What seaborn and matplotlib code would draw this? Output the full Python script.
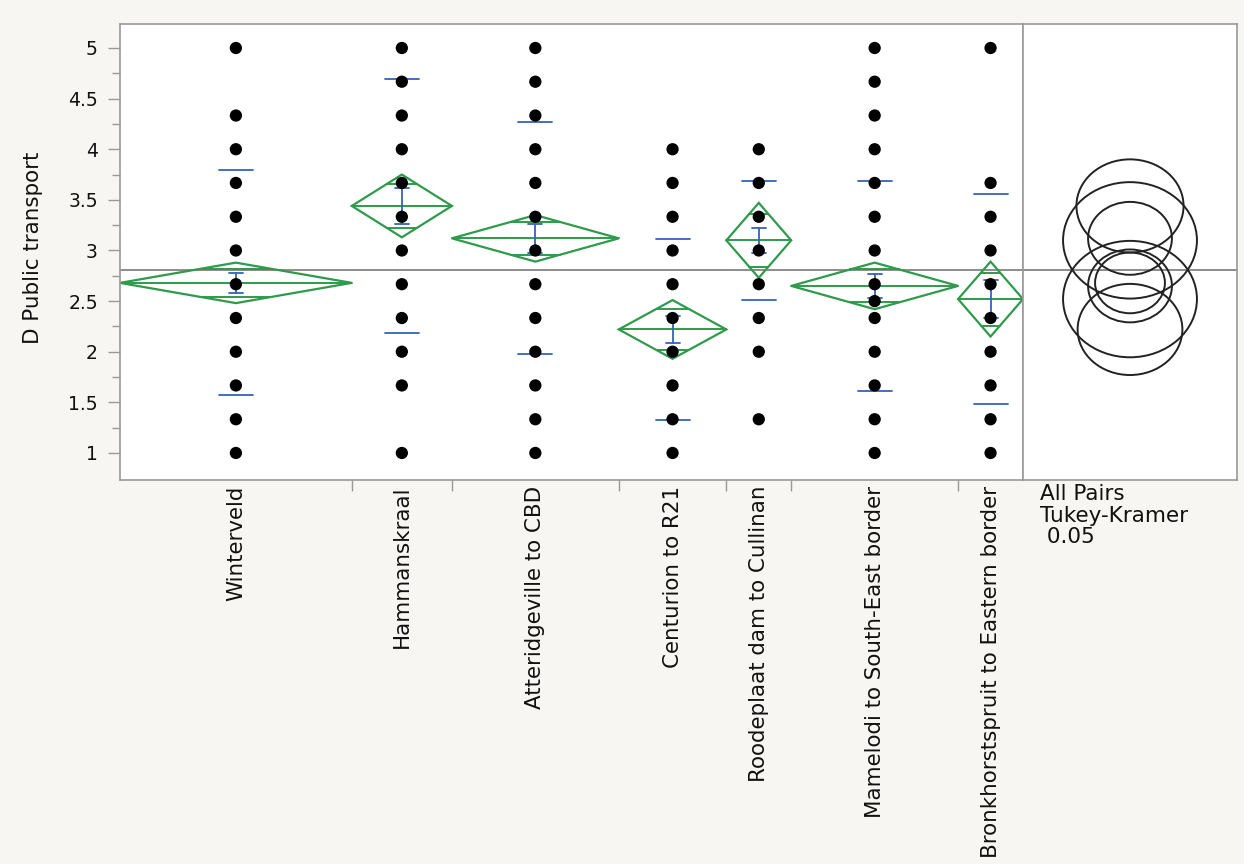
import numpy as np
import pandas as pd
import matplotlib
matplotlib.use("Agg")
import matplotlib.pyplot as plt
import seaborn as sns
from matplotlib.patches import Polygon, Ellipse
from matplotlib.ticker import FixedLocator, FuncFormatter, NullFormatter

# ---------------- data ----------------
groups = ["Winterveld", "Hammanskraal", "Atteridgeville to CBD", "Centurion to R21",
          "Roodeplaat dam to Cullinan", "Mamelodi to South-East border",
          "Bronkhorstspruit to Eastern border"]
group_n = [125, 54, 90, 58, 35, 90, 35]
group_mean = [2.68, 3.44, 3.12, 2.22, 3.10, 2.65, 2.52]
group_sd = [1.11, 1.255, 1.145, 0.895, 0.59, 1.04, 1.035]
ci_half = [0.20, 0.31, 0.23, 0.29, 0.37, 0.23, 0.37]
se_half = [0.10, 0.18, 0.14, 0.13, 0.12, 0.12, 0.19]
circle_radius = [0.30, 0.46, 0.36, 0.45, 0.575, 0.36, 0.575]
grand_mean = 2.81

pts_winterveld = [5, 4.333, 4, 3.667, 3.333, 3, 2.667, 2.333, 2, 1.667, 1.333, 1]
pts_hammanskraal = [5, 4.667, 4.333, 4, 3.667, 3.333, 3, 2.667, 2.333, 2, 1.667, 1]
pts_atteridgeville = [5, 4.667, 4.333, 4, 3.667, 3.333, 3, 2.667, 2.333, 2, 1.667, 1.333, 1]
pts_centurion = [4, 3.667, 3.333, 3, 2.667, 2.333, 2, 1.667, 1.333, 1]
pts_roodeplaat = [4, 3.667, 3.333, 3, 2.667, 2.333, 2, 1.333]
pts_mamelodi = [5, 4.667, 4.333, 4, 3.667, 3.333, 3, 2.667, 2.5, 2.333, 2, 1.667, 1.333, 1]
pts_bronkhorstspruit = [5, 3.667, 3.333, 3, 2.667, 2.333, 2, 1.667, 1.333, 1]
group_points = [pts_winterveld, pts_hammanskraal, pts_atteridgeville, pts_centurion,
                pts_roodeplaat, pts_mamelodi, pts_bronkhorstspruit]

y_ticks = [1, 1.5, 2, 2.5, 3, 3.5, 4, 4.5, 5]
y_label = "D Public transport"
panel_text = "All Pairs\nTukey-Kramer\n 0.05"

# ---------------- style ----------------
sns.set_theme(style="white")
plt.rcParams['font.family'] = ['DejaVu Sans']
BG = "#f7f6f2"
GREEN = "#2f9a4c"
BLUE = "#3563b8"
GRAY = "#999999"

W, H = 1244, 864
fig = plt.figure(figsize=(W / 100, H / 100), dpi=100, facecolor=BG)

L, R, T, B = 120, 1023, 24, 480
R2 = 1237
ax = fig.add_axes([L / W, 1 - B / H, (R - L) / W, (B - T) / H])
ax2 = fig.add_axes([R / W, 1 - B / H, (R2 - R) / W, (B - T) / H])
ax.set_facecolor("white")
ax2.set_facecolor("white")

ylo, yhi = 0.733, 5.237
ax.set_ylim(ylo, yhi)
ax2.set_ylim(ylo, yhi)

# x positions proportional to group sizes
bounds = np.concatenate([[0], np.cumsum(group_n)])
centers = (bounds[:-1] + bounds[1:]) / 2
total = bounds[-1]
ax.set_xlim(0, total)
px_per_x = (R - L) / total
px_per_y = (B - T) / (yhi - ylo)

# grand mean line
ax.axhline(grand_mean, color="#8c8c8c", lw=1.4, zorder=1)
ax2.axhline(grand_mean, color="#8c8c8c", lw=1.4, zorder=1)

sd_hw = 17 / px_per_x
cap_hw = 7 / px_per_x
for i in range(len(groups)):
    x0, x1, xc = bounds[i], bounds[i + 1], centers[i]
    m, c = group_mean[i], ci_half[i]
    diamond = Polygon([(x0, m), (xc, m + c), (x1, m), (xc, m - c)], closed=True,
                      fill=False, edgecolor=GREEN, lw=1.6, zorder=2)
    ax.add_patch(diamond)
    ax.plot([x0, x1], [m, m], color=GREEN, lw=1.4, zorder=2)
    # overlap marks
    frac = 1 - 1 / np.sqrt(2)
    hw = (x1 - x0) / 2 * frac
    for s in (1, -1):
        yy = m + s * c / np.sqrt(2)
        ax.plot([xc - hw, xc + hw], [yy, yy], color=GREEN, lw=1.4, zorder=2)
    # std error bars
    se = se_half[i]
    ax.plot([xc, xc], [m - se, m + se], color=BLUE, lw=1.3, zorder=3)
    for yy in (m - se, m + se):
        ax.plot([xc - cap_hw, xc + cap_hw], [yy, yy], color=BLUE, lw=1.3, zorder=3)
    # std dev lines
    for yy in (m - group_sd[i], m + group_sd[i]):
        ax.plot([xc - sd_hw, xc + sd_hw], [yy, yy], color=BLUE, lw=1.3, zorder=4)

# data points
rows = []
for i, pts in enumerate(group_points):
    for v in pts:
        rows.append({"group": groups[i], "x": centers[i], "value": v})
df = pd.DataFrame(rows)
sns.scatterplot(data=df, x="x", y="value", color="black", s=78, edgecolor="none",
                ax=ax, legend=False, zorder=5)
ax.set_xlabel("")
ax.set_ylabel(y_label, fontsize=15.4, color="#111111")
ax.yaxis.set_label_coords(-0.085, (B - 248) / (B - T))
ax.yaxis.label.set_va("bottom")

# y ticks
ax.yaxis.set_major_locator(FixedLocator(y_ticks))
ax.yaxis.set_minor_locator(FixedLocator([v + 0.25 for v in y_ticks[:-1]]))
ax.yaxis.set_major_formatter(FuncFormatter(lambda v, p: f"{v:g}"))
ax.tick_params(axis="y", which="major", left=True, length=9, width=1, color=GRAY,
               labelsize=13.5, labelcolor="#111111", pad=7)
ax.tick_params(axis="y", which="minor", left=True, length=6, width=1, color=GRAY)

# x ticks: labels at centers, tick marks at boundaries
ax.xaxis.set_major_locator(FixedLocator(centers))
ax.set_xticklabels(groups, rotation=90, fontsize=15.4, color="#111111", va="top", ha="center")
ax.xaxis.set_minor_locator(FixedLocator(bounds[1:-1]))
ax.xaxis.set_minor_formatter(NullFormatter())
ax.tick_params(axis="x", which="major", bottom=True, length=0, pad=4)
ax.tick_params(axis="x", which="minor", bottom=True, length=8, width=1, color=GRAY)

for a in (ax, ax2):
    for sp in a.spines.values():
        sp.set_visible(True)
        sp.set_color(GRAY)
        sp.set_linewidth(1.2)

# comparison circles panel
panel_w = (R2 - R) / px_per_y
ax2.set_xlim(0, panel_w)
cx = (1130 - R) / px_per_y
stretch = 1.15
for i in range(len(groups)):
    r = circle_radius[i]
    e = Ellipse((cx, group_mean[i]), width=2 * r * stretch, height=2 * r,
                fill=False, edgecolor="#222222", lw=1.4, zorder=3)
    ax2.add_patch(e)
ax2.set_xticks([])
ax2.set_yticks([])

fig.text(1040 / W, 1 - 484 / H, panel_text, fontsize=15.5, color="#111111",
         ha="left", va="top", linespacing=1.1)

fig.savefig("out.png", dpi=100, facecolor=BG)
